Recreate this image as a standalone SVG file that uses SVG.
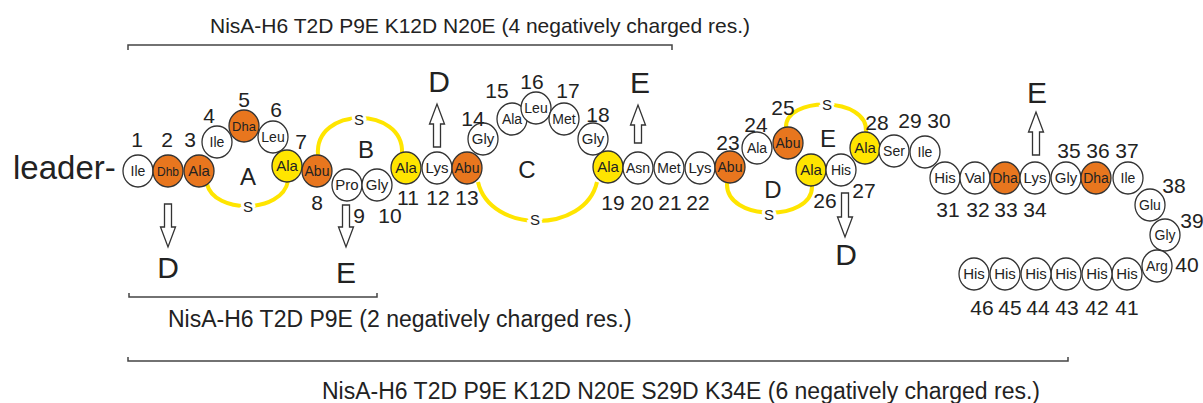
<svg xmlns="http://www.w3.org/2000/svg" width="1203" height="403" viewBox="0 0 1203 403">
<style>
text{font-family:"Liberation Sans",Arial,sans-serif;fill:#222}
.w{fill:#fff;stroke:#333;stroke-width:1.3}
.o{fill:#E8761E;stroke:#333;stroke-width:1.3}
.y{fill:#FFE500;stroke:#333;stroke-width:1.3}
.lbl{font-size:15px;text-anchor:middle}
.sm{font-size:13px}
.num{font-size:21px;text-anchor:middle}
.ring{font-size:24px;text-anchor:middle}
.s{font-size:15px;text-anchor:middle;stroke:#fff;stroke-width:6px;paint-order:stroke}
.bridge{fill:none;stroke:#FFE500;stroke-width:4}
.arrow{fill:#fff;stroke:#333;stroke-width:1.3}
.mut{font-size:30px;text-anchor:middle}
.bracket{fill:none;stroke:#444;stroke-width:1.5}
.cap{font-size:23px}
</style>
<rect width="1203" height="403" fill="#fff"/>
<text x="13" y="179" style="font-size:33px">leader-</text>
<g id="connectors">
<path class="bridge" d="M207 184 C214 214 282 214 288 181"/>
<path class="bridge" d="M318 155 C314 106 404 106 402 153"/>
<path class="bridge" d="M478 182 C490 234 585 234 597 182"/>
<path class="bridge" d="M727 183 C725 222 813 222 812 186"/>
<path class="bridge" d="M786 128 C784 96 869 96 866 132"/>
</g>
<g id="bridge-labels">
<text class="s" x="248" y="212">S</text>
<text class="s" x="359" y="125">S</text>
<text class="s" x="535" y="225">S</text>
<text class="s" x="769" y="220">S</text>
<text class="s" x="827" y="110">S</text>
</g>
<g id="rings">
<text class="ring" x="248" y="185">A</text>
<text class="ring" x="366" y="158">B</text>
<text class="ring" x="527" y="178">C</text>
<text class="ring" x="773" y="198">D</text>
<text class="ring" x="828" y="147">E</text>
</g>
<g id="n1"><ellipse class="w" cx="138" cy="171" rx="15" ry="16"/><text class="lbl" x="138" y="176" style="font-size:14px">Ile</text><text class="num" x="137" y="147">1</text></g>
<g id="n2"><ellipse class="o" cx="168" cy="171" rx="15" ry="16"/><text class="lbl sm" x="168" y="176" style="font-size:12px">Dhb</text><text class="num" x="167" y="147">2</text></g>
<g id="n3"><ellipse class="o" cx="199" cy="171" rx="15" ry="16"/><text class="lbl" x="199" y="176">Ala</text><text class="num" x="190" y="147">3</text></g>
<g id="n4"><ellipse class="w" cx="217" cy="142" rx="15" ry="16"/><text class="lbl" x="217" y="147" style="font-size:14px">Ile</text><text class="num" x="209" y="123">4</text></g>
<g id="n5"><ellipse class="o" cx="244" cy="126" rx="15" ry="16"/><text class="lbl sm" x="244" y="131">Dha</text><text class="num" x="244" y="107">5</text></g>
<g id="n6"><ellipse class="w" cx="273" cy="137" rx="15" ry="16"/><text class="lbl" x="273" y="142" style="font-size:14px">Leu</text><text class="num" x="276" y="117">6</text></g>
<g id="n7"><ellipse class="y" cx="287" cy="166" rx="15" ry="16"/><text class="lbl" x="287" y="171">Ala</text><text class="num" x="301" y="149">7</text></g>
<g id="n8"><ellipse class="o" cx="317" cy="171" rx="15" ry="16"/><text class="lbl" x="317" y="176" style="font-size:14px">Abu</text><text class="num" x="317" y="210">8</text></g>
<g id="n9"><ellipse class="w" cx="347" cy="185" rx="15" ry="16"/><text class="lbl" x="347" y="190">Pro</text><text class="num" x="359" y="223">9</text></g>
<g id="n10"><ellipse class="w" cx="377" cy="185" rx="15" ry="16"/><text class="lbl" x="377" y="190">Gly</text><text class="num" x="390" y="223">10</text></g>
<g id="n11"><ellipse class="y" cx="406" cy="168" rx="15" ry="16"/><text class="lbl" x="406" y="173">Ala</text><text class="num" x="408" y="205">11</text></g>
<g id="n12"><ellipse class="w" cx="437" cy="168" rx="15" ry="16"/><text class="lbl" x="437" y="173">Lys</text><text class="num" x="438" y="205">12</text></g>
<g id="n13"><ellipse class="o" cx="467" cy="168" rx="15" ry="16"/><text class="lbl" x="467" y="173" style="font-size:14px">Abu</text><text class="num" x="467" y="205">13</text></g>
<g id="n14"><ellipse class="w" cx="483" cy="139" rx="15" ry="16"/><text class="lbl" x="483" y="144">Gly</text><text class="num" x="473" y="126">14</text></g>
<g id="n15"><ellipse class="w" cx="512" cy="119" rx="15" ry="16"/><text class="lbl" x="512" y="124" style="font-size:14px">Ala</text><text class="num" x="497" y="98">15</text></g>
<g id="n16"><ellipse class="w" cx="536" cy="108" rx="15" ry="16"/><text class="lbl" x="536" y="113" style="font-size:14px">Leu</text><text class="num" x="532" y="89">16</text></g>
<g id="n17"><ellipse class="w" cx="564" cy="119" rx="15" ry="16"/><text class="lbl" x="564" y="124" style="font-size:14px">Met</text><text class="num" x="568" y="98">17</text></g>
<g id="n18"><ellipse class="w" cx="593" cy="139" rx="15" ry="16"/><text class="lbl" x="593" y="144">Gly</text><text class="num" x="598" y="122">18</text></g>
<g id="n19"><ellipse class="y" cx="608" cy="167" rx="15" ry="16"/><text class="lbl" x="608" y="172">Ala</text><text class="num" x="613" y="210">19</text></g>
<g id="n20"><ellipse class="w" cx="638" cy="168" rx="15" ry="16"/><text class="lbl" x="638" y="173" style="font-size:14px">Asn</text><text class="num" x="642" y="210">20</text></g>
<g id="n21"><ellipse class="w" cx="669" cy="168" rx="15" ry="16"/><text class="lbl" x="669" y="173" style="font-size:14px">Met</text><text class="num" x="670" y="210">21</text></g>
<g id="n22"><ellipse class="w" cx="700" cy="168" rx="15" ry="16"/><text class="lbl" x="700" y="173">Lys</text><text class="num" x="698" y="210">22</text></g>
<g id="n23"><ellipse class="o" cx="730" cy="167" rx="15" ry="16"/><text class="lbl" x="730" y="172" style="font-size:14px">Abu</text><text class="num" x="728" y="150">23</text></g>
<g id="n24"><ellipse class="w" cx="757" cy="148" rx="15" ry="16"/><text class="lbl" x="757" y="153" style="font-size:14px">Ala</text><text class="num" x="756" y="132">24</text></g>
<g id="n25"><ellipse class="o" cx="788" cy="143" rx="15" ry="16"/><text class="lbl" x="788" y="148" style="font-size:14px">Abu</text><text class="num" x="783" y="115">25</text></g>
<g id="n26"><ellipse class="y" cx="811" cy="170" rx="15" ry="16"/><text class="lbl" x="811" y="175">Ala</text><text class="num" x="825" y="208">26</text></g>
<g id="n27"><ellipse class="w" cx="841" cy="170" rx="15" ry="16"/><text class="lbl" x="841" y="175" style="font-size:14px">His</text><text class="num" x="864" y="198">27</text></g>
<g id="n28"><ellipse class="y" cx="865" cy="148" rx="15" ry="16"/><text class="lbl" x="865" y="153">Ala</text><text class="num" x="877" y="130">28</text></g>
<g id="n29"><ellipse class="w" cx="894" cy="151" rx="15" ry="16"/><text class="lbl" x="894" y="156" style="font-size:14px">Ser</text><text class="num" x="910" y="128">29</text></g>
<g id="n30"><ellipse class="w" cx="925" cy="152" rx="15" ry="16"/><text class="lbl" x="925" y="157" style="font-size:14px">Ile</text><text class="num" x="939" y="128">30</text></g>
<g id="n31"><ellipse class="w" cx="945" cy="178" rx="15" ry="16"/><text class="lbl" x="945" y="183">His</text><text class="num" x="948" y="217">31</text></g>
<g id="n32"><ellipse class="w" cx="975" cy="178" rx="15" ry="16"/><text class="lbl" x="975" y="183">Val</text><text class="num" x="978" y="217">32</text></g>
<g id="n33"><ellipse class="o" cx="1005" cy="178" rx="15" ry="16"/><text class="lbl" x="1005" y="183" style="font-size:14px">Dha</text><text class="num" x="1006" y="217">33</text></g>
<g id="n34"><ellipse class="w" cx="1035" cy="178" rx="15" ry="16"/><text class="lbl" x="1035" y="183">Lys</text><text class="num" x="1035" y="217">34</text></g>
<g id="n35"><ellipse class="w" cx="1066" cy="178" rx="15" ry="16"/><text class="lbl" x="1066" y="183">Gly</text><text class="num" x="1069" y="158">35</text></g>
<g id="n36"><ellipse class="o" cx="1096" cy="178" rx="15" ry="16"/><text class="lbl" x="1096" y="183" style="font-size:14px">Dha</text><text class="num" x="1098" y="158">36</text></g>
<g id="n37"><ellipse class="w" cx="1128" cy="178" rx="15" ry="16"/><text class="lbl" x="1128" y="183" style="font-size:14px">Ile</text><text class="num" x="1127" y="158">37</text></g>
<g id="n38"><ellipse class="w" cx="1150" cy="205" rx="15" ry="16"/><text class="lbl" x="1150" y="210" style="font-size:14px">Glu</text><text class="num" x="1174" y="193">38</text></g>
<g id="n39"><ellipse class="w" cx="1165" cy="235" rx="15" ry="16"/><text class="lbl" x="1165" y="240" style="font-size:14px">Gly</text><text class="num" x="1192" y="228">39</text></g>
<g id="n40"><ellipse class="w" cx="1157" cy="266" rx="15" ry="16"/><text class="lbl" x="1157" y="271" style="font-size:14px">Arg</text><text class="num" x="1187" y="272">40</text></g>
<g id="n41"><ellipse class="w" cx="1127" cy="274" rx="15" ry="16"/><text class="lbl" x="1127" y="279">His</text><text class="num" x="1127" y="315">41</text></g>
<g id="n42"><ellipse class="w" cx="1097" cy="274" rx="15" ry="16"/><text class="lbl" x="1097" y="279">His</text><text class="num" x="1097" y="315">42</text></g>
<g id="n43"><ellipse class="w" cx="1066" cy="274" rx="15" ry="16"/><text class="lbl" x="1066" y="279">His</text><text class="num" x="1067" y="315">43</text></g>
<g id="n44"><ellipse class="w" cx="1036" cy="274" rx="15" ry="16"/><text class="lbl" x="1036" y="279">His</text><text class="num" x="1038" y="315">44</text></g>
<g id="n45"><ellipse class="w" cx="1005" cy="274" rx="15" ry="16"/><text class="lbl" x="1005" y="279">His</text><text class="num" x="1010" y="315">45</text></g>
<g id="n46"><ellipse class="w" cx="974" cy="274" rx="15" ry="16"/><text class="lbl" x="974" y="279">His</text><text class="num" x="982" y="315">46</text></g>
<g id="mutations">
<path class="arrow" d="M164.5 204 H171.5 V227 H175.5 L168 247 L160.5 227 H164.5 Z"/>
<text class="mut" x="168" y="278">D</text>
<path class="arrow" d="M342.5 205 H349.5 V227 H353.5 L346 247 L338.5 227 H342.5 Z"/>
<text class="mut" x="346" y="283">E</text>
<path class="arrow" d="M433.5 147 H440.5 V124 H444.5 L437 104 L429.5 124 H433.5 Z"/>
<text class="mut" x="439" y="92">D</text>
<path class="arrow" d="M634.5 143 H641.5 V125 H645.5 L638 105 L630.5 125 H634.5 Z"/>
<text class="mut" x="640" y="93">E</text>
<path class="arrow" d="M841.5 193 H848.5 V217 H852.5 L845 237 L837.5 217 H841.5 Z"/>
<text class="mut" x="846" y="265">D</text>
<path class="arrow" d="M1032.5 155 H1039.5 V132 H1043.5 L1036 112 L1028.5 132 H1032.5 Z"/>
<text class="mut" x="1037" y="103">E</text>
</g>
<g id="brackets">
<path class="bracket" d="M128 50 V45 H672 V50"/>
<text class="cap" x="210" y="33" style="font-size:21px">NisA-H6 T2D P9E K12D N20E (4 negatively charged res.)</text>
<path class="bracket" d="M129 293 V297 H377 V293"/>
<text class="cap" x="168" y="327">NisA-H6 T2D P9E (2 negatively charged res.)</text>
<path class="bracket" d="M128 357 V361 H1068 V357"/>
<text class="cap" x="322" y="399">NisA-H6 T2D P9E K12D N20E S29D K34E (6 negatively charged res.)</text>
</g>
</svg>
